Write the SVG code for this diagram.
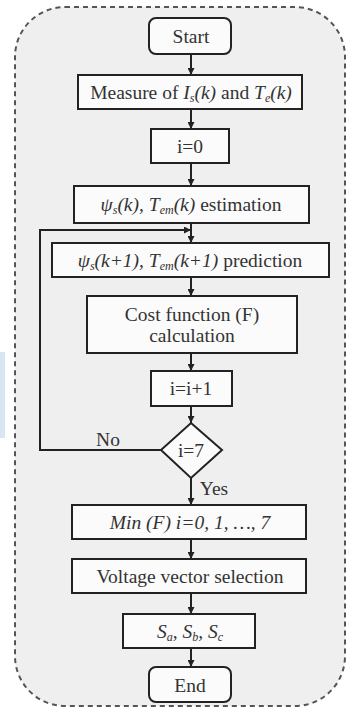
<svg xmlns="http://www.w3.org/2000/svg" width="348" height="708" viewBox="0 0 348 708">
<defs>
<marker id="ah" viewBox="0 0 10 10" refX="10" refY="5" markerWidth="7" markerHeight="7" markerUnits="userSpaceOnUse" orient="auto">
<path d="M0,0 L10,5 L0,10 z" fill="#222"/>
</marker>
<style>
.box{fill:#fbfbfb;stroke:#222;stroke-width:2}
.t{font-family:"Liberation Serif","Times New Roman",serif;font-size:19.5px;fill:#333;text-anchor:middle}
.i{font-style:italic}
.s{font-size:12px}
.c{stroke:#222;stroke-width:2;fill:none}
.ca{stroke:#222;stroke-width:2;fill:none;marker-end:url(#ah)}
</style>
</defs>
<rect width="348" height="708" fill="#ffffff"/>
<rect x="0" y="352" width="5" height="86" fill="#d6e7f3"/>
<rect x="15" y="7" width="330" height="699" rx="50" ry="50" fill="#efefef" stroke="#555" stroke-width="2" stroke-dasharray="5,4"/>

<g id="connectors">
<line class="ca" x1="191" y1="54" x2="191" y2="75"/>
<line class="ca" x1="191" y1="109" x2="191" y2="129"/>
<line class="ca" x1="191" y1="163" x2="191" y2="186"/>
<line class="ca" x1="191" y1="223" x2="191" y2="243"/>
<line class="ca" x1="191" y1="277" x2="191" y2="296"/>
<line class="ca" x1="191" y1="353" x2="191" y2="371"/>
<line class="ca" x1="191" y1="406" x2="191" y2="423"/>
<line class="ca" x1="191" y1="478" x2="191" y2="505"/>
<line class="ca" x1="191" y1="539" x2="191" y2="559"/>
<line class="ca" x1="191" y1="593" x2="191" y2="614"/>
<line class="ca" x1="191" y1="648" x2="191" y2="667"/>
<polyline class="ca" points="161,450 40,450 40,230 191,230"/>
<text class="t" x="108" y="446">No</text>
<text class="t" x="214" y="495">Yes</text>
</g>

<g id="start">
<rect class="box" x="149" y="18" width="82" height="36" rx="7"/>
<text class="t" x="191" y="43">Start</text>
</g>
<g id="measure">
<rect class="box" x="78" y="75" width="224" height="34"/>
<text class="t" x="191" y="99">Measure of <tspan class="i">I</tspan><tspan class="i s" dy="3">s</tspan><tspan class="i" dy="-3">(k)</tspan> and <tspan class="i">T</tspan><tspan class="i s" dy="3">e</tspan><tspan class="i" dy="-3">(k)</tspan></text>
</g>
<g id="init">
<rect class="box" x="151" y="129" width="78" height="34"/>
<text class="t" x="190" y="153">i=0</text>
</g>
<g id="estimation">
<rect class="box" x="74" y="186" width="235" height="37"/>
<text class="t" x="191" y="211"><tspan class="i">ψ</tspan><tspan class="i s" dy="3">s</tspan><tspan class="i" dy="-3">(k), T</tspan><tspan class="i s" dy="3">em</tspan><tspan class="i" dy="-3">(k)</tspan> estimation</text>
</g>
<g id="prediction">
<rect class="box" x="52" y="243" width="277" height="34"/>
<text class="t" x="190" y="267"><tspan class="i">ψ</tspan><tspan class="i s" dy="3">s</tspan><tspan class="i" dy="-3">(k+1), T</tspan><tspan class="i s" dy="3">em</tspan><tspan class="i" dy="-3">(k+1)</tspan> prediction</text>
</g>
<g id="cost">
<rect class="box" x="87" y="296" width="210" height="57"/>
<text class="t" x="192" y="321">Cost function (F)</text>
<text class="t" x="192" y="342">calculation</text>
</g>
<g id="increment">
<rect class="box" x="151" y="371" width="81" height="35"/>
<text class="t" x="191" y="395">i=i+1</text>
</g>
<g id="decision">
<polygon class="box" points="191,423 222,450 191,478 161,450"/>
<text class="t" x="191" y="457">i=7</text>
</g>
<g id="min">
<rect class="box" x="72" y="505" width="234" height="34"/>
<text class="t i" x="190" y="529">Min (F) i=0, 1, …, 7</text>
</g>
<g id="voltage">
<rect class="box" x="72" y="559" width="234" height="34"/>
<text class="t" x="190" y="583">Voltage vector selection</text>
</g>
<g id="switches">
<rect class="box" x="123" y="614" width="132" height="34"/>
<text class="t" x="190" y="638"><tspan class="i">S</tspan><tspan class="i s" dy="3">a</tspan><tspan class="i" dy="-3">, S</tspan><tspan class="i s" dy="3">b</tspan><tspan class="i" dy="-3">, S</tspan><tspan class="i s" dy="3">c</tspan></text>
</g>
<g id="end">
<rect class="box" x="149" y="667" width="82" height="35" rx="7"/>
<text class="t" x="190" y="692">End</text>
</g>
</svg>
